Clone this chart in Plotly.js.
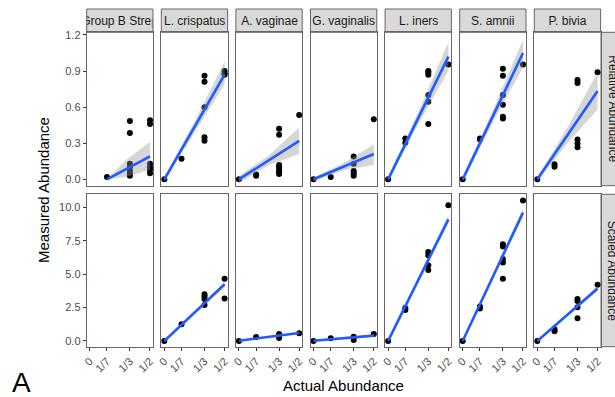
<!DOCTYPE html>
<html>
<head>
<meta charset="utf-8">
<script src="https://cdn.plot.ly/plotly-3.0.1.min.js"></script>
<style>html,body{margin:0;padding:0;background:#fff;}#plot{width:615px;height:397px;}</style>
</head>
<body>
<div id="plot"></div>
<script>
// ---------- DATA ----------
const species = ["Group B Strep", "L. crispatus", "A. vaginae", "G. vaginalis", "L. iners", "S. amnii", "P. bivia"];
const rowLabels = ["Relative Abundance", "Scaled Abundance"];
const xTickVals = [0, 1/7, 1/3, 1/2];
const xTickText = ["0", "1/7", "1/3", "1/2"];

// Relative abundance (top row) points
const relPointsX = [
  [1/7, 1/3,1/3,1/3,1/3,1/3,1/3,1/3, 1/2,1/2,1/2,1/2,1/2,1/2],
  [0, 1/7, 1/3,1/3,1/3,1/3,1/3, 1/2,1/2,1/2],
  [0, 1/7,1/7, 1/3,1/3,1/3,1/3,1/3,1/3,1/3, 1/2],
  [0, 1/7, 1/3,1/3,1/3,1/3,1/3, 1/2],
  [0, 1/7,1/7, 1/3,1/3,1/3,1/3,1/3,1/3, 1/2],
  [0, 1/7,1/7, 1/3,1/3,1/3,1/3,1/3,1/3, 1/2],
  [0, 1/7,1/7, 1/3,1/3,1/3,1/3,1/3, 1/2]
];
const relPointsY = [
  [0.02, 0.485,0.385,0.13,0.10,0.07,0.05,0.03, 0.49,0.46,0.13,0.10,0.08,0.05],
  [0.0, 0.17, 0.86,0.81,0.60,0.35,0.32, 0.90,0.88,0.87],
  [0.0, 0.03,0.04, 0.42,0.37,0.12,0.10,0.08,0.06,0.045, 0.535],
  [0.0, 0.02, 0.19,0.13,0.07,0.05,0.03, 0.50],
  [0.0, 0.34,0.305, 0.90,0.89,0.87,0.70,0.645,0.46, 0.954],
  [0.0, 0.34,0.33, 0.92,0.86,0.70,0.62,0.52,0.505, 0.954],
  [0.0, 0.125,0.105, 0.826,0.80,0.33,0.30,0.266, 0.89]
];
// Relative abundance fitted lines (smooth) and confidence band
const relFitX = [
  [1/7, 0.30, 0.5], [0, 0.25, 0.5], [0, 0.25, 0.5], [0, 0.25, 0.5],
  [0, 0.25, 0.5], [0, 0.25, 0.5], [0, 0.25, 0.5]
];
const relFitY  = [[0.0,0.085,0.19],[0,0.435,0.87],[0,0.16,0.32],[0,0.105,0.21],[0,0.51,1.02],[0,0.525,1.05],[0,0.367,0.734]];
const relFitLo = [[0.0,0.02,0.08],[-0.02,0.39,0.79],[-0.03,0.12,0.21],[-0.015,0.075,0.12],[-0.02,0.46,0.90],[-0.02,0.475,0.93],[-0.02,0.30,0.58]];
const relFitHi = [[0.0,0.16,0.31],[0.02,0.48,0.98],[0.03,0.20,0.43],[0.015,0.135,0.29],[0.02,0.56,1.14],[0.02,0.575,1.16],[0.02,0.43,0.89]];

// Scaled abundance (bottom row) points
const scPointsX = [
  [],
  [0, 1/7, 1/3,1/3,1/3,1/3, 1/2,1/2],
  [0, 1/7, 1/3,1/3, 1/2],
  [0, 1/7, 1/3,1/3, 1/2],
  [0, 1/7,1/7, 1/3,1/3,1/3,1/3, 1/2],
  [0, 1/7,1/7, 1/3,1/3,1/3,1/3,1/3, 1/2],
  [0, 1/7,1/7, 1/3,1/3,1/3,1/3, 1/2]
];
const scPointsY = [
  [],
  [0, 1.25, 3.49,3.32,3.14,2.69, 4.66,3.17],
  [0, 0.30, 0.52,0.22, 0.57],
  [0, 0.20, 0.32,0.07, 0.52],
  [0, 2.47,2.32, 6.66,6.41,5.66,5.31, 10.15],
  [0, 2.57,2.42, 7.23,7.06,6.13,5.86,4.66, 10.5],
  [0, 0.87,0.72, 3.14,2.99,2.52,1.70, 4.21]
];
const scFitX = [[], [0,0.25,0.5], [0,0.25,0.5], [0,0.25,0.5], [0,0.25,0.5], [0,0.25,0.5], [0,0.25,0.5]];
const scFitY  = [[], [0,2.12,4.24], [0.02,0.31,0.60], [0.02,0.21,0.40], [0,4.55,9.1], [0,4.8,9.6], [0,1.96,3.92]];
const scFitLo = [[], [-0.05,2.05,4.08], [-0.03,0.27,0.52], [-0.03,0.17,0.32], [-0.05,4.4,8.8], [-0.05,4.65,9.3], [-0.05,1.85,3.72]];
const scFitHi = [[], [0.05,2.19,4.40], [0.07,0.35,0.68], [0.07,0.25,0.48], [0.05,4.7,9.4], [0.05,4.95,9.9], [0.05,2.07,4.12]];

const relYTicks = [0, 0.3, 0.6, 0.9, 1.2];
const scYTicks = [0, 2.5, 5, 7.5, 10];

// ---------- LAYOUT ----------
const W = 615, H = 397;
const px = v => v / W;
const py = v => 1 - v / H;
const panelLeft0 = 86.7, panelStep = 74.6, panelW = 66.3;
const topRow = [32.3, 185.7], botRow = [194.3, 346.7];
const stripTop = [9, 32.3];
const rightStrip = [601, 624.3];

const FONT = "Liberation Sans, Arial, Helvetica, sans-serif";
const lineBlue = "#1f5bff";
const ribbonFill = "rgba(153,153,153,0.4)";
const borderCol = "#666666";

const traces = [];
const layout = {
  width: W, height: H,
  margin: {l: 0, r: 0, t: 0, b: 0, pad: 0},
  paper_bgcolor: "#ffffff", plot_bgcolor: "#ffffff",
  showlegend: false,
  font: {family: FONT},
  shapes: [], annotations: []
};

function addPanel(idx, col, rowIdx, xs, ys, fx, fy, flo, fhi) {
  const ax = idx === 1 ? "" : String(idx);
  const xa = "x" + ax, ya = "y" + ax;
  const left = panelLeft0 + col * panelStep;
  const rowPx = rowIdx === 0 ? topRow : botRow;
  const isBottom = rowIdx === 1;
  layout["xaxis" + ax] = {
    domain: [px(left), px(left + panelW)],
    range: [-0.025, 0.525],
    anchor: ya,
    showgrid: false, zeroline: false,
    showline: true, mirror: true, linecolor: borderCol, linewidth: 1,
    tickvals: xTickVals, ticktext: xTickText,
    showticklabels: isBottom,
    ticks: isBottom ? "outside" : "",
    ticklen: 3, tickcolor: "#333333", tickwidth: 1,
    tickangle: -45,
    tickfont: {family: FONT, size: 11, color: "#4D4D4D"},
    fixedrange: true
  };
  layout["yaxis" + ax] = {
    domain: [py(rowPx[1]), py(rowPx[0])],
    range: rowIdx === 0 ? [-0.053, 1.222] : [-0.43, 10.97],
    anchor: xa,
    showgrid: false, zeroline: false,
    showline: true, mirror: true, linecolor: borderCol, linewidth: 1,
    tickvals: rowIdx === 0 ? relYTicks : scYTicks,
    tickformat: ".1f",
    showticklabels: col === 0,
    ticks: col === 0 ? "outside" : "",
    ticklen: 3, tickcolor: "#333333", tickwidth: 1,
    tickfont: {family: FONT, size: 11, color: "#4D4D4D"},
    fixedrange: true
  };
  // points
  traces.push({type: "scatter", mode: "markers", x: xs, y: ys, xaxis: xa, yaxis: ya,
    marker: {color: "#000000", size: 6}, hoverinfo: "skip", cliponaxis: false});
  if (fx.length) {
    // confidence band
    traces.push({type: "scatter", mode: "lines", xaxis: xa, yaxis: ya,
      x: fx.concat(fx.slice().reverse()), y: fhi.concat(flo.slice().reverse()),
      fill: "toself", fillcolor: ribbonFill, line: {width: 0, color: "rgba(0,0,0,0)"}, hoverinfo: "skip"});
    // fitted line
    traces.push({type: "scatter", mode: "lines", xaxis: xa, yaxis: ya,
      x: [fx[0], fx[fx.length - 1]], y: [fy[0], fy[fy.length - 1]],
      line: {color: lineBlue, width: 2.6}, hoverinfo: "skip"});
  }
}

for (let c = 0; c < species.length; c++) {
  addPanel(c + 1, c, 0, relPointsX[c], relPointsY[c], relFitX[c], relFitY[c], relFitLo[c], relFitHi[c]);
  addPanel(c + 8, c, 1, scPointsX[c], scPointsY[c], scFitX[c], scFitY[c], scFitLo[c], scFitHi[c]);
  // top strip
  const left = panelLeft0 + c * panelStep;
  layout.shapes.push({type: "rect", xref: "paper", yref: "paper",
    x0: px(left), x1: px(left + panelW), y0: py(stripTop[1]), y1: py(stripTop[0]),
    fillcolor: "#D9D9D9", line: {color: borderCol, width: 1}, layer: "below"});
  layout.annotations.push({xref: "paper", yref: "paper", x: px(left + panelW / 2), y: py((stripTop[0] + stripTop[1]) / 2),
    xanchor: "center", yanchor: "middle", text: species[c], showarrow: false,
    width: panelW - 1, height: 18, align: "center",
    font: {family: FONT, size: 12, color: "#1A1A1A"}});
}

// right strips
[topRow, botRow].forEach((r, i) => {
  layout.shapes.push({type: "rect", xref: "paper", yref: "paper",
    x0: px(rightStrip[0]), x1: px(rightStrip[1]), y0: py(r[1]), y1: py(r[0]),
    fillcolor: "#D9D9D9", line: {color: borderCol, width: 1}, layer: "below"});
  layout.annotations.push({xref: "paper", yref: "paper", x: px((rightStrip[0] + rightStrip[1]) / 2), y: py((r[0] + r[1]) / 2),
    xanchor: "center", yanchor: "middle", text: rowLabels[i], showarrow: false, textangle: 90,
    font: {family: FONT, size: 12, color: "#1A1A1A"}});
});

// axis titles and panel tag
layout.annotations.push({xref: "paper", yref: "paper", x: px(43.5), y: py((topRow[0] + botRow[1]) / 2),
  xanchor: "center", yanchor: "middle", text: "Measured Abundance", showarrow: false, textangle: -90,
  font: {family: FONT, size: 15, color: "#000000"}});
layout.annotations.push({xref: "paper", yref: "paper", x: px(343), y: py(385),
  xanchor: "center", yanchor: "middle", text: "Actual Abundance", showarrow: false,
  font: {family: FONT, size: 15, color: "#000000"}});
layout.annotations.push({xref: "paper", yref: "paper", x: px(21), y: py(382),
  xanchor: "center", yanchor: "middle", text: "A", showarrow: false,
  font: {family: FONT, size: 28, color: "#000000"}});

Plotly.newPlot("plot", traces, layout, {staticPlot: true, displayModeBar: false});
</script>
</body>
</html>
